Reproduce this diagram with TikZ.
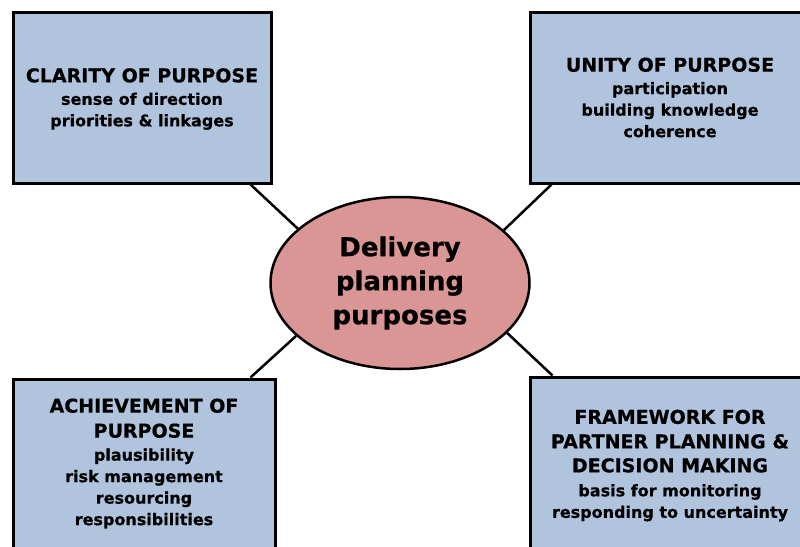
\documentclass[tikz,border=0pt]{standalone}
\usepackage{fontspec}
\setmainfont{DejaVu Sans}[BoldFeatures={FakeBold=0.6}]
\definecolor{boxblue}{RGB}{176,196,222}
\definecolor{ellred}{RGB}{217,150,148}
\newcommand\hdline[1]{{\fontsize{19}{21.5}\selectfont #1}}
\tikzset{
  boxshape/.style={draw=black, line width=3pt, fill=boxblue, rectangle, inner sep=0pt},
  boxtext/.style={align=center, inner sep=0pt, font=\bfseries\fontsize{16}{21.5}\selectfont},
  centre/.style={draw=black, line width=2.5pt, fill=ellred, ellipse, inner sep=0pt,
    minimum width=259pt, minimum height=172pt, align=center,
    font=\bfseries\fontsize{26}{34}\selectfont},
  link/.style={draw=black, line width=2.5pt}
}
\usetikzlibrary{shapes.geometric,calc}
\begin{document}
\begin{tikzpicture}[x=1pt,y=-1pt]
\useasboundingbox (0,0) rectangle (800,546);
\clip (0,0) rectangle (800,546);
\node[boxshape, minimum width=258pt, minimum height=171pt] (tl) at (142,97.5) {};
\node[boxshape, minimum width=282pt, minimum height=171pt] (tr) at (671,97.5) {};
\node[boxshape, minimum width=262pt, minimum height=170pt] (bl) at (144,464) {};
\node[boxshape, minimum width=282pt, minimum height=188pt] (br) at (671,471) {};
\node[centre] (el) at (400,283) {Delivery\\planning\\purposes};
\node[boxtext] (tlt) at (142,99) {\hdline{CLARITY OF PURPOSE}\\[1pt]sense of direction\\priorities \& linkages};
\node[boxtext] (trt) at (670,97.5) {\hdline{UNITY OF PURPOSE}\\[1pt]participation\\building knowledge\\coherence};
\node[boxtext] (blt) at (144,463.5) {\hdline{ACHIEVEMENT OF}\\[3.5pt]\hdline{PURPOSE}\\[1.5pt]plausibility\\risk management\\resourcing\\responsibilities};
\node[boxtext] (brt) at (670,465.5) {\hdline{FRAMEWORK FOR}\\[3pt]\hdline{PARTNER PLANNING \&}\\[2.5pt]\hdline{DECISION MAKING}\\[2.5pt]basis for monitoring\\responding to uncertainty};
\draw[link] ($(tl.south east)+(-22,0)$) -- (el.152.8);
\draw[link] ($(tr.south west)+(23,0)$) -- (el.27.2);
\draw[link] ($(bl.north east)+(-26,0)$) -- (el.207.7);
\draw[link] ($(br.north west)+(24,0)$) -- (el.335.2);
\end{tikzpicture}
\end{document}
